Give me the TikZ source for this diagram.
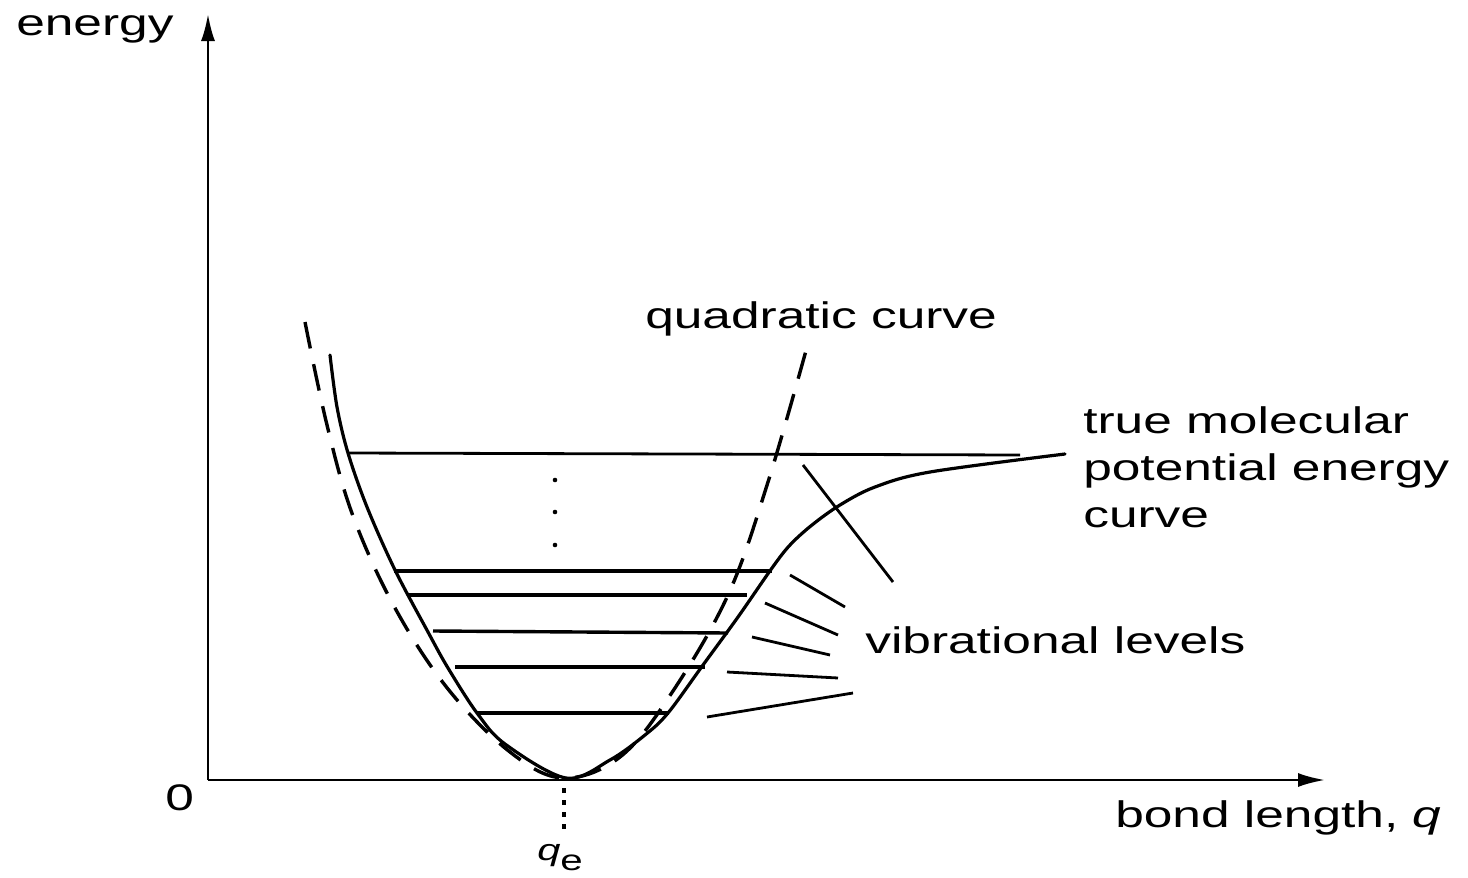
\documentclass[tikz,border=0pt]{standalone}
\usepackage{fontspec}
\setmainfont{Liberation Sans}
\usetikzlibrary{arrows.meta}
\tikzset{
  lbl/.style={inner sep=0pt, anchor=base west, xscale=1.39, font=\fontsize{37}{47}\selectfont},
  axis/.style={line width=2.5pt, -{Latex[length=27pt,width=14pt]}},
  curve/.style={line width=3.2pt, line join=round, line cap=round},
  quad/.style={line width=3.4pt, dash pattern=on 27pt off 16pt},
  level/.style={line width=3.4pt},
  pointer/.style={line width=2.8pt},
}
\begin{document}
\begin{tikzpicture}[x=1pt,y=-1pt]
\useasboundingbox (0,0) rectangle (1468,878);
% axes
\coordinate (O) at (208,780);
\coordinate (ytip) at (208,14);
\coordinate (xtip) at (1325,780);
\draw[axis] (O) -- (ytip);
\draw[axis] (O) -- (xtip);
% labels
\node[lbl] (energy) at (16,35) {energy};
\node[lbl] (zero) at (165,810) {0};
\node[lbl] (bond) at (1115,827) {bond length, \textit{q}};
\node[lbl] (quadlbl) at (645,328) {quadratic curve};
\node[lbl] (tml1) at (1083,433) {true molecular};
\node[lbl] (tml2) at (1083,480) {potential energy};
\node[lbl] (tml3) at (1083,527) {curve};
\node[lbl] (vib) at (865,653) {vibrational levels};
\node[inner sep=0pt, anchor=base west, xscale=1.39] (qe) at (537,860)
  {{\fontsize{30}{30}\selectfont\itshape q}\raisebox{-10pt}{\fontsize{29}{30}\selectfont e}};
% qe dotted marker
\coordinate (qetop) at (564,788);
\coordinate (qebot) at (564,832);
\draw[line width=4.2pt, dash pattern=on 5pt off 7pt] (qetop) -- (qebot);
% quadratic curve (dashed)
\draw[quad] plot[smooth, tension=0.6] coordinates {
 (305,322) (327,425) (353,516) (395,608) (448,689) (510,752) (563,778)
 (620,757) (671,694) (728,595) (768,482) (807,347)};
% true potential
\draw[curve] plot[smooth, tension=0.55] coordinates {
 (330,355) (337,407) (348,453) (367,507) (395,570) (428,632) (448,668)
 (477,713) (505,744) (566,778) (610,760) (645,735) (668,713) (703,665)
 (738,617) (772,568) (790,545) (812,525) (840,505) (875,487) (930,472) (1065,454)};
% vibrational levels
\coordinate (L0a) at (347,453); \coordinate (L0b) at (1020,455);
\coordinate (L1a) at (394,571); \coordinate (L1b) at (772,571);
\coordinate (L2a) at (408,595); \coordinate (L2b) at (747,595);
\coordinate (L3a) at (433,631); \coordinate (L3b) at (728,633);
\coordinate (L4a) at (455,667); \coordinate (L4b) at (705,667);
\coordinate (L5a) at (477,713); \coordinate (L5b) at (669,713);
\draw[line width=2.8pt] (L0a) -- (L0b);
\foreach \i in {1,...,5} {\draw[level] (L\i a) -- (L\i b);}
% dots
\foreach \yy in {480,512,545} {\fill (555,\yy) circle (2.3pt);}
% pointer lines
\coordinate (p0a) at (803,465); \coordinate (p0b) at (893,582);
\coordinate (p1a) at (790,575); \coordinate (p1b) at (845,607);
\coordinate (p2a) at (765,603); \coordinate (p2b) at (838,635);
\coordinate (p3a) at (752,637); \coordinate (p3b) at (830,655);
\coordinate (p4a) at (727,672); \coordinate (p4b) at (838,678);
\coordinate (p5a) at (707,717); \coordinate (p5b) at (853,693);
\foreach \i in {0,...,5} {\draw[pointer] (p\i a) -- (p\i b);}
\end{tikzpicture}
\end{document}
